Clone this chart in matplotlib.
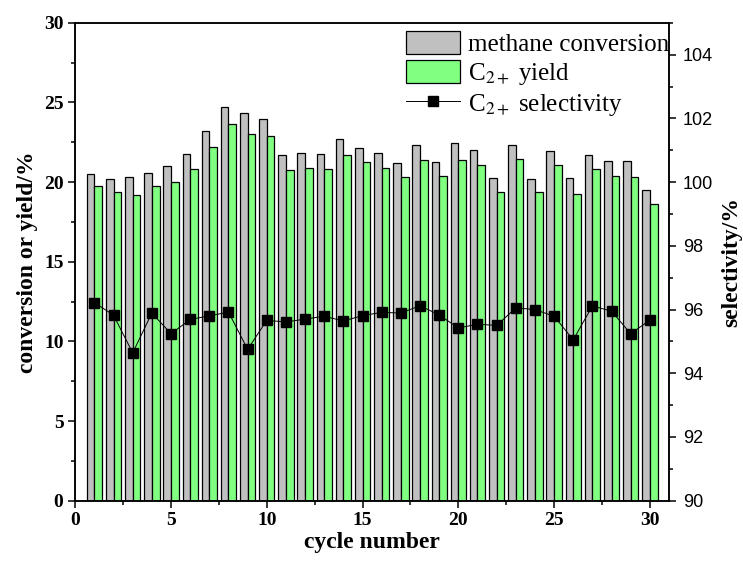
import matplotlib
matplotlib.use("Agg")
import matplotlib.pyplot as plt
from matplotlib.ticker import MultipleLocator

# data
cycles = list(range(1, 31))
conversion = [20.5, 20.2, 20.3, 20.6, 21.0, 21.75, 23.2, 24.7, 24.35, 23.95,
              21.7, 21.85, 21.75, 22.7, 22.15, 21.85, 21.2, 22.3, 21.25, 22.45,
              22.0, 20.25, 22.35, 20.2, 21.95, 20.25, 21.7, 21.3, 21.3, 19.5]
c2_yield = [19.75, 19.35, 19.2, 19.75, 20.0, 20.8, 22.2, 23.65, 23.05, 22.9,
            20.75, 20.9, 20.8, 21.7, 21.25, 20.9, 20.35, 21.4, 20.4, 21.4,
            21.05, 19.35, 21.45, 19.4, 21.05, 19.25, 20.85, 20.4, 20.3, 18.65]
selectivity = [96.22, 95.82, 94.64, 95.89, 95.24, 95.69, 95.80, 95.92, 94.75, 95.66,
               95.61, 95.70, 95.79, 95.64, 95.81, 95.91, 95.89, 96.12, 95.83, 95.42,
               95.54, 95.50, 96.05, 96.00, 95.79, 95.05, 96.11, 95.95, 95.24, 95.67]

serif = "Liberation Serif"
plt.rcParams["mathtext.fontset"] = "stix"

fig = plt.figure(figsize=(7.43, 5.63), dpi=100)
ax1 = fig.add_axes([0.1013, 0.1107, 0.7991, 0.8488])

w = 0.4
x_gray = [c - w / 2 for c in cycles]
x_green = [c + w / 2 for c in cycles]
b1 = ax1.bar(x_gray, conversion, width=w, color="#c0c0c0", edgecolor="black",
             linewidth=0.9, label="methane conversion")
b2 = ax1.bar(x_green, c2_yield, width=w, color="#80ff80", edgecolor="black",
             linewidth=0.9, label="C$_{2+}$ yield")

ax1.set_xlim(0, 31)
ax1.set_ylim(0, 30)
ax1.xaxis.set_major_locator(MultipleLocator(5))
ax1.xaxis.set_minor_locator(MultipleLocator(2.5))
ax1.yaxis.set_major_locator(MultipleLocator(5))
ax1.yaxis.set_minor_locator(MultipleLocator(2.5))
ax1.tick_params(which="major", direction="out", length=5, width=1.1)
ax1.tick_params(which="minor", direction="out", length=3, width=1.1)
for lab in ax1.get_xticklabels() + ax1.get_yticklabels():
    lab.set_fontfamily(serif)
    lab.set_fontweight("bold")
    lab.set_fontsize(14)
ax1.set_xlabel("cycle number", fontfamily=serif, fontweight="bold", fontsize=17, labelpad=2)
ax1.set_ylabel("conversion or yield/%", fontfamily=serif, fontweight="bold", fontsize=17, labelpad=4)
for s in ax1.spines.values():
    s.set_linewidth(1.1)

ax2 = ax1.twinx()
l1, = ax2.plot(cycles, selectivity, color="black", linewidth=0.7, marker="s",
               markersize=7.5, label="C$_{2+}$ selectivity")
ax2.set_ylim(90, 105)
ax2.yaxis.set_major_locator(MultipleLocator(2))
ax2.yaxis.set_minor_locator(MultipleLocator(1))
ax2.tick_params(which="major", direction="out", length=5, width=1.1, labelsize=13, pad=5)
ax2.tick_params(which="minor", direction="out", length=3, width=1.1)
for lab in ax2.get_yticklabels():
    lab.set_fontfamily("Liberation Sans")
ax2.set_ylabel("selectivity/%", fontfamily=serif, fontweight="bold", fontsize=17, labelpad=6)
for s in ax2.spines.values():
    s.set_linewidth(1.1)

ax2.legend([b1, b2, l1], ["methane conversion", "C$_{2+}$ yield", "C$_{2+}$ selectivity"],
           loc="upper right", bbox_to_anchor=(1.008, 0.993), frameon=False,
           prop={"family": serif, "size": 18}, handlelength=2.15, handleheight=1.05,
           handletextpad=0.3, labelspacing=0.15, borderpad=0.2, borderaxespad=0.0)

fig.savefig("out.png", dpi=100)
